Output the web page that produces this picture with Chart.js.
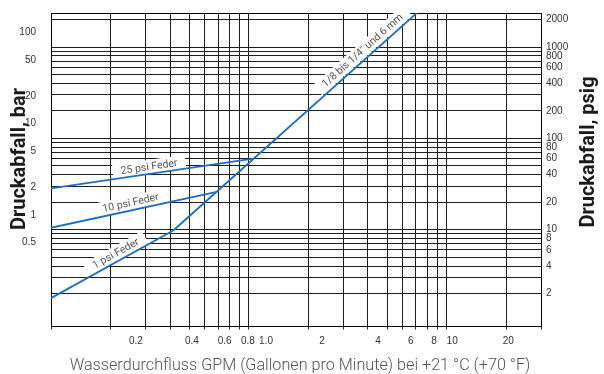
<!DOCTYPE html>
<html>
<head>
<meta charset="utf-8">
<style>
  html, body { margin: 0; padding: 0; background: #fff; }
  #wrap { width: 604px; height: 374px; }
</style>
<script src="https://cdn.jsdelivr.net/npm/chart.js@4/dist/chart.umd.min.js"></script>
</head>
<body>
<div id="wrap"><canvas id="chart" width="604" height="374"></canvas></div>
<script>
// Pressure drop curves: flow in GPM, pressure drop in psig
const flowMain = [0.415, 7.06];
const dropMain = [9.8, 2360];
const flow25 = [0.1, 1.054];
const drop25 = [28.4, 60];
const flow10 = [0.1, 0.688];
const drop10 = [10.5, 26];
const flow1 = [0.1, 0.415];
const drop1 = [1.78, 9.8];

const curveNames = ['1/8 bis 1/4" und 6 mm', '25 psi Feder', '10 psi Feder', '1 psi Feder'];

// Axis ranges
const flowMin = 0.1, flowMax = 30;          // grid scale
const flowLabelMin = 0.07, flowLabelMax = 30; // printed flow scale
const psigMin = 0.87, psigMax = 2365;
const psiPerBar = 14.5;

// Grid lines and tick labels
const flowGrid = [0.1, 0.2, 0.3, 0.4, 0.5, 0.6, 0.7, 0.8, 0.9, 1, 2, 3, 4, 5, 6, 7, 8, 9, 10, 20, 30];
const flowTicks = [0.2, 0.4, 0.6, 0.8, 1, 2, 4, 6, 8, 10, 20];
const flowTickLabels = ['0.2', '0.4', '0.6', '0.8', '1.0', '2', '4', '6', '8', '10', '20'];
const psigGrid = [2, 3, 4, 5, 6, 7, 8, 9, 10, 20, 30, 40, 50, 60, 70, 80, 90, 100,
                  200, 300, 400, 500, 600, 700, 800, 900, 1000, 2000];
const psigTicks = [2, 4, 6, 8, 10, 20, 40, 60, 80, 100, 200, 400, 600, 800, 1000, 2000];
const barTicks = [0.5, 1, 2, 5, 10, 20, 50, 100];

const titleLeft = 'Druckabfall, bar';
const titleRight = 'Druckabfall, psig';
const titleBottom = 'Wasserdurchfluss GPM (Gallonen pro Minute) bei +21 °C (+70 °F)';

const lineBlue = '#1c6fc0';
const gridColor = '#1e1e1e';
const tickFont = { family: "'Liberation Sans', Arial, sans-serif", size: 10 };

const toPoints = (xs, ys) => xs.map((x, i) => ({ x: x, y: ys[i] }));
const fixedTicks = values => scale => { scale.ticks = values.map(v => ({ value: v })); };

// Curve captions: which dataset, position along it, offset from it
const curveLabels = [
  { ds: 0, t: 0.80, off: 8.4, text: curveNames[0] },
  { ds: 1, t: 0.49, off: 7.0, text: curveNames[1] },
  { ds: 2, t: 0.49, off: 7.5, text: curveNames[2] },
  { ds: 3, t: 0.56, off: 7.7, text: curveNames[3] }
];

const captions = {
  id: 'captions',
  beforeDatasetsDraw(chart) {
    const ctx = chart.ctx;
    ctx.save();
    ctx.font = "10.5px Roboto, 'Liberation Sans', sans-serif";
    curveLabels.forEach(l => {
      const pts = chart.getDatasetMeta(l.ds).data;
      const p0 = pts[0], p1 = pts[pts.length - 1];
      const dx = p1.x - p0.x, dy = p1.y - p0.y;
      const len = Math.hypot(dx, dy);
      const ux = dx / len, uy = dy / len;
      const cx = p0.x + dx * l.t + uy * l.off;
      const cy = p0.y + dy * l.t - ux * l.off;
      const w = ctx.measureText(l.text).width;
      ctx.save();
      ctx.translate(cx, cy);
      ctx.rotate(Math.atan2(dy, dx));
      ctx.fillStyle = '#fff';
      ctx.fillRect(-w / 2 - 8, -7, w + 16, 14);
      ctx.fillStyle = '#555';
      ctx.textAlign = 'center';
      ctx.textBaseline = 'middle';
      ctx.fillText(l.text, 0, 0.5);
      ctx.restore();
    });
    ctx.restore();
  },
  afterDraw(chart) {
    const ctx = chart.ctx;
    const a = chart.chartArea;
    ctx.save();
    ctx.textAlign = 'center';
    ctx.textBaseline = 'middle';
    ctx.fillStyle = '#1a1a1a';
    ctx.font = "bold 20px Roboto, 'Liberation Sans', sans-serif";
    ctx.save();
    ctx.translate(a.left - 31, 159);
    ctx.rotate(-Math.PI / 2);
    ctx.fillText(titleLeft, 0, 0);
    ctx.restore();
    ctx.save();
    ctx.translate(a.right + 48, 152);
    ctx.rotate(-Math.PI / 2);
    ctx.fillText(titleRight, 0, 0);
    ctx.restore();
    ctx.fillStyle = '#555';
    ctx.font = "300 16.2px Roboto, 'Liberation Sans', sans-serif";
    ctx.fillText(titleBottom, 300, 366);
    ctx.restore();
  }
};

const lineStyle = { borderColor: lineBlue, borderWidth: 1.8, pointRadius: 0, fill: false,
                    tension: 0, xAxisID: 'x', yAxisID: 'yp' };

new Chart(document.getElementById('chart'), {
  type: 'line',
  data: {
    datasets: [
      Object.assign({ label: curveNames[0], data: toPoints(flowMain, dropMain) }, lineStyle),
      Object.assign({ label: curveNames[1], data: toPoints(flow25, drop25) }, lineStyle),
      Object.assign({ label: curveNames[2], data: toPoints(flow10, drop10) }, lineStyle),
      Object.assign({ label: curveNames[3], data: toPoints(flow1, drop1) }, lineStyle)
    ]
  },
  options: {
    responsive: false,
    animation: false,
    devicePixelRatio: 1,
    layout: { padding: { top: 11, left: 0, right: 0, bottom: 0 } },
    plugins: { legend: { display: false }, tooltip: { enabled: false } },
    scales: {
      x: {
        type: 'logarithmic', position: 'bottom', min: flowMin, max: flowMax, bounds: 'data',
        afterBuildTicks: fixedTicks(flowGrid),
        ticks: { display: false },
        grid: { color: gridColor, lineWidth: 1, drawTicks: true, tickLength: 3, tickColor: gridColor },
        border: { display: true, color: '#000', width: 1 },
        afterFit: s => { s.height = 0; }
      },
      xt: {
        type: 'logarithmic', position: 'bottom', min: flowLabelMin, max: flowLabelMax, bounds: 'data',
        afterBuildTicks: fixedTicks(flowTicks),
        ticks: { autoSkip: false, maxRotation: 0, padding: 1, color: '#333', font: tickFont,
                 callback: (v, i) => flowTickLabels[i] },
        grid: { display: false },
        border: { display: false },
        afterFit: s => { s.height = 47.5; }
      },
      xTop: {
        type: 'linear', position: 'top', display: true,
        ticks: { display: false },
        grid: { display: false },
        border: { display: true, color: '#000', width: 1 },
        afterFit: s => { s.height = 0; }
      },
      y: {
        type: 'logarithmic', position: 'left', min: psigMin / psiPerBar, max: psigMax / psiPerBar, bounds: 'data',
        afterBuildTicks: fixedTicks(barTicks),
        ticks: { autoSkip: false, padding: 7, color: '#333', font: tickFont, callback: v => String(v) },
        grid: { display: false },
        border: { display: true, color: '#000', width: 1 },
        afterFit: s => { s.width = 51; }
      },
      yp: {
        type: 'logarithmic', position: 'right', min: psigMin, max: psigMax, bounds: 'data',
        afterBuildTicks: fixedTicks(psigGrid),
        ticks: { autoSkip: false, padding: 5, color: '#333', font: tickFont,
                 callback: v => psigTicks.includes(v) ? String(v) : '' },
        grid: { color: gridColor, lineWidth: 1, drawTicks: false },
        border: { display: true, color: '#000', width: 1 },
        afterFit: s => { s.width = 63; }
      }
    }
  },
  plugins: [captions]
});
</script>
</body>
</html>
